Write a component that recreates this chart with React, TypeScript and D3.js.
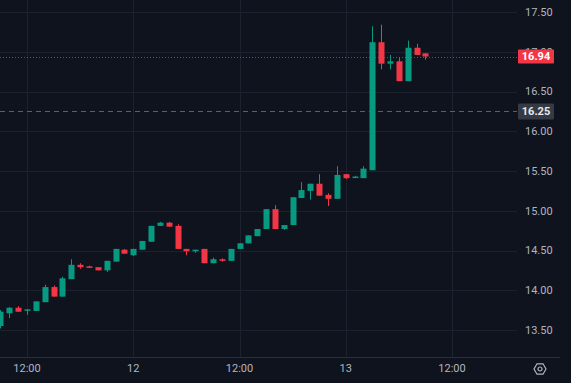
import React from "react";
import * as d3 from "d3";

// hours relative to day 12 00:00
const hours = [-15,-14,-13,-12,-11,-10,-9,-8,-7,-6,-5,-4,-3,-2,-1,0,1,2,3,4,5,6,7,8,9,10,11,12,13,14,15,16,17,18,19,20,21,22,23,24,25,26,27,28,29,30,31,32,33];
const opens = [13.55,13.71,13.78,13.75,13.74,13.85,14.04,13.92,14.14,14.32,14.30,14.29,14.25,14.36,14.51,14.44,14.51,14.61,14.81,14.85,14.81,14.52,14.49,14.52,14.34,14.39,14.37,14.52,14.59,14.68,14.77,15.02,14.77,14.82,15.16,15.25,15.34,15.20,15.15,15.46,15.42,15.41,15.51,17.12,16.85,16.88,16.63,17.05,16.98];
const highs = [13.75,13.79,13.80,13.76,13.86,14.07,14.06,14.17,14.39,14.34,14.31,14.29,14.37,14.52,14.52,14.52,14.62,14.81,14.86,14.86,14.83,14.52,14.51,14.52,14.41,14.40,14.52,14.59,14.69,14.77,15.02,15.07,14.82,15.17,15.36,15.34,15.46,15.22,15.56,15.46,15.44,15.56,17.32,17.34,16.96,16.93,17.14,17.10,16.98];
const lows = [13.52,13.65,13.73,13.69,13.74,13.85,13.92,13.92,14.14,14.27,14.28,14.25,14.23,14.36,14.46,14.43,14.51,14.61,14.81,14.80,14.52,14.44,14.47,14.34,14.34,14.36,14.37,14.52,14.59,14.68,14.77,14.77,14.76,14.82,15.16,15.14,15.19,15.06,15.15,15.40,15.42,15.41,15.51,16.78,16.78,16.63,16.63,16.96,16.90];
const closes = [13.73,13.78,13.73,13.76,13.86,14.04,13.92,14.15,14.32,14.29,14.29,14.25,14.37,14.52,14.46,14.52,14.62,14.81,14.85,14.80,14.52,14.49,14.51,14.34,14.39,14.37,14.52,14.59,14.69,14.77,15.02,14.77,14.82,15.17,15.26,15.34,15.19,15.15,15.45,15.41,15.43,15.53,17.12,16.85,16.88,16.63,17.05,16.96,16.94];

const priceTicks = [13.5, 14.0, 14.5, 15.0, 15.5, 16.0, 16.5, 17.0, 17.5];
const timeTicks = [-12, 0, 12, 24, 36];
const timeLabels = ["12:00", "12", "12:00", "13", "12:00"];
const lastPrice = 16.94;
const refPrice = 16.25;

const W = 571, H = 383;
const plotRight = 517;
const plotBottom = 357;
const BG = "#0f131e";
const GRID = "#1c2130";
const TEXT = "#b2b5be";
const UP = "#089981";
const DOWN = "#f23645";
const FONT = "Roboto, 'Noto Sans', sans-serif";

export default function App() {
  const x = d3.scaleLinear().domain([-12, 36]).range([27, 452]);
  const y = d3.scaleLinear().domain([13.5, 17.5]).range([330, 12]);
  const bw = 6;

  return (
    <div style={{ position: "absolute", left: 0, top: 0, width: W, height: H }}>
      <svg width={W} height={H} style={{ display: "block" }}>
        <rect width={W} height={H} fill={BG} />
        {/* grid */}
        {priceTicks.map((p) => (
          <line key={"h" + p} x1={0} x2={plotRight} y1={Math.round(y(p)) + 0.5} y2={Math.round(y(p)) + 0.5} stroke={GRID} strokeWidth={1} />
        ))}
        {timeTicks.map((t) => (
          <line key={"v" + t} x1={Math.round(x(t)) + 0.5} x2={Math.round(x(t)) + 0.5} y1={0} y2={plotBottom} stroke={GRID} strokeWidth={1} />
        ))}
        {/* reference dashed line */}
        <line x1={0} x2={plotRight} y1={Math.round(y(refPrice)) + 0.5} y2={Math.round(y(refPrice)) + 0.5} stroke="#5d606b" strokeWidth={1} strokeDasharray="5,4" />
        {/* candles */}
        {hours.map((h, i) => {
          const o = opens[i], c = closes[i], hi = highs[i], lo = lows[i];
          const col = c >= o ? UP : DOWN;
          const cx = Math.round(x(h));
          const top = y(Math.max(o, c));
          const bot = y(Math.min(o, c));
          return (
            <g key={"c" + i}>
              <line x1={cx + 0.5} x2={cx + 0.5} y1={y(hi)} y2={y(lo)} stroke={col} strokeWidth={1} />
              <rect x={cx - bw / 2 + 0.5} y={top} width={bw} height={Math.max(1.5, bot - top)} fill={col} />
            </g>
          );
        })}
        {/* last price dotted line */}
        <line x1={0} x2={plotRight} y1={Math.round(y(lastPrice)) + 0.5} y2={Math.round(y(lastPrice)) + 0.5} stroke={DOWN} strokeOpacity={0.75} strokeWidth={1} strokeDasharray="1,2" />
        {/* bottom axis line */}
        <line x1={0} x2={560} y1={plotBottom + 0.5} y2={plotBottom + 0.5} stroke="#2a2e39" strokeWidth={1} />
        {/* price tick labels */}
        {priceTicks.map((p) => (
          <text key={"pt" + p} x={525} y={y(p)} dy="0.35em" fill={TEXT} fontSize={11} fontFamily={FONT}>
            {d3.format(".2f")(p)}
          </text>
        ))}
        {/* time labels */}
        {timeTicks.map((t, i) => (
          <text key={"tt" + t} x={x(t)} y={368} dy="0.35em" fill={TEXT} fontSize={11} fontFamily={FONT} textAnchor="middle">
            {timeLabels[i]}
          </text>
        ))}
        {/* ref price label */}
        <rect x={518} y={y(refPrice) - 8} width={36} height={16} rx={1.5} fill="#363a45" />
        <text x={536} y={y(refPrice)} dy="0.35em" fill="#e8e9ed" fontSize={11} fontWeight="bold" fontFamily={FONT} textAnchor="middle">
          {d3.format(".2f")(refPrice)}
        </text>
        {/* last price label */}
        <rect x={518} y={y(lastPrice) - 7} width={36} height={14} rx={1} fill={DOWN} />
        <text x={536} y={y(lastPrice)} dy="0.35em" fill="#ffffff" fontSize={11} fontWeight="bold" fontFamily={FONT} textAnchor="middle">
          {d3.format(".2f")(lastPrice)}
        </text>
        {/* settings icon */}
        <g transform="translate(540,369)" fill="none" stroke={TEXT} strokeWidth={1.2}>
          <path d={d3.range(6).map((k) => {
            const a = (Math.PI / 3) * k;
            return (k === 0 ? "M" : "L") + (6 * Math.cos(a)).toFixed(2) + "," + (6 * Math.sin(a)).toFixed(2);
          }).join("") + "Z"} />
          <circle r={2} />
        </g>
      </svg>
    </div>
  );
}
